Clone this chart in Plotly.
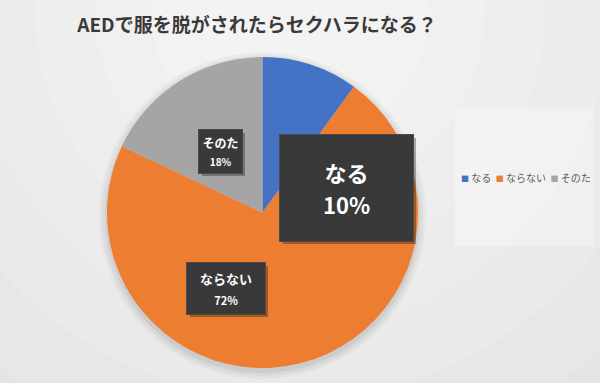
import plotly.graph_objects as go

# ---- data ----
labels = ["なる", "ならない", "そのた"]
values = [10, 72, 18]
colors = ["#4472C4", "#ED7D31", "#A5A5A5"]
title_text = "AEDで服を脱がされたらセクハラになる？"

W, H = 600, 383
FONT = "Noto Sans CJK JP"

def px(x):
    return x / W

def py(y):
    return 1 - y / H

fig = go.Figure()

fig.add_trace(go.Pie(
    labels=labels,
    values=values,
    marker=dict(colors=colors, line=dict(width=0)),
    sort=False,
    direction="clockwise",
    rotation=0,
    textinfo="none",
    hoverinfo="skip",
    showlegend=False,
    domain=dict(x=[px(107), px(418)], y=[py(368), py(57)]),
))

shapes = []
# radial background gradient (white glow near top centre)
for r in [620, 540, 460, 390, 320, 255, 195, 140, 90]:
    cx, cy = 290, 10
    shapes.append(dict(type="circle", xref="paper", yref="paper",
                       x0=px(cx - r), x1=px(cx + r), y0=py(cy + r), y1=py(cy - r),
                       fillcolor="white", opacity=0.13, line=dict(width=0), layer="below"))
# soft shadow around the pie
pcx, pcy, pr = 262.5, 213.5, 155.5
for d, op in [(8, 0.03), (5, 0.04), (2, 0.06)]:
    shapes.append(dict(type="circle", xref="paper", yref="paper",
                       x0=px(pcx - pr - d), x1=px(pcx + pr + d),
                       y0=py(pcy + 2 + pr + d), y1=py(pcy + 2 - pr - d),
                       fillcolor="black", opacity=op, line=dict(width=0), layer="below"))
# legend panel
shapes.append(dict(type="rect", xref="paper", yref="paper",
                   x0=px(455), x1=px(594), y0=py(246), y1=py(109),
                   fillcolor="white", opacity=0.3, line=dict(width=0), layer="below"))

# data-label boxes: (centre x, centre y, width, height, label font, value font, line-spacing font)
boxes = [
    (346.5, 188, 133, 106, 22, 22, 25),
    (226, 288.5, 78, 51, 13, 11, 16),
    (220.5, 151.5, 43, 43, 12, 10, 13.5),
]
annotations = []
for (bx, by, bw, bh, f1, f2, fs), lab, val in zip(boxes, labels, values):
    # drop shadow
    shapes.append(dict(type="rect", xref="paper", yref="paper",
                       x0=px(bx - bw / 2 + 3), x1=px(bx + bw / 2 + 3),
                       y0=py(by + bh / 2 + 3), y1=py(by - bh / 2 + 3),
                       fillcolor="black", opacity=0.3, line=dict(width=0), layer="above"))
    annotations.append(dict(
        xref="paper", yref="paper", x=px(bx), y=py(by),
        xanchor="center", yanchor="middle",
        width=bw, height=bh, borderpad=0,
        bgcolor="#393939", bordercolor="#4a4a4a", borderwidth=1,
        showarrow=False, align="center", valign="middle",
        text=f"<b><span style='font-size:{f1}px'>{lab}</span><br>"
             f"<span style='font-size:{f2}px'>{val}%</span></b>",
        font=dict(family=FONT, size=fs, color="white"),
    ))

# legend (compact, single row)
legend_parts = [
    f"<span style='color:{c};font-size:8px'>■</span> {l}" for l, c in zip(labels, colors)
]
annotations.append(dict(
    xref="paper", yref="paper", x=px(525.5), y=py(177),
    xanchor="center", yanchor="middle", showarrow=False,
    text="  ".join(legend_parts),
    font=dict(family=FONT, size=10, color="#595959"),
))

fig.update_layout(
    width=W, height=H,
    margin=dict(l=0, r=0, t=0, b=0),
    paper_bgcolor="#dcdcdc",
    plot_bgcolor="rgba(0,0,0,0)",
    title=dict(text=f"<b>{title_text}</b>", x=px(257), xanchor="center",
               y=py(25), yanchor="middle",
               font=dict(family=FONT, size=19, color="#3a3a3a")),
    shapes=shapes,
    annotations=annotations,
)

fig.write_html("out.html", config={"displayModeBar": False},
               post_script="document.body.style.margin='0';")
